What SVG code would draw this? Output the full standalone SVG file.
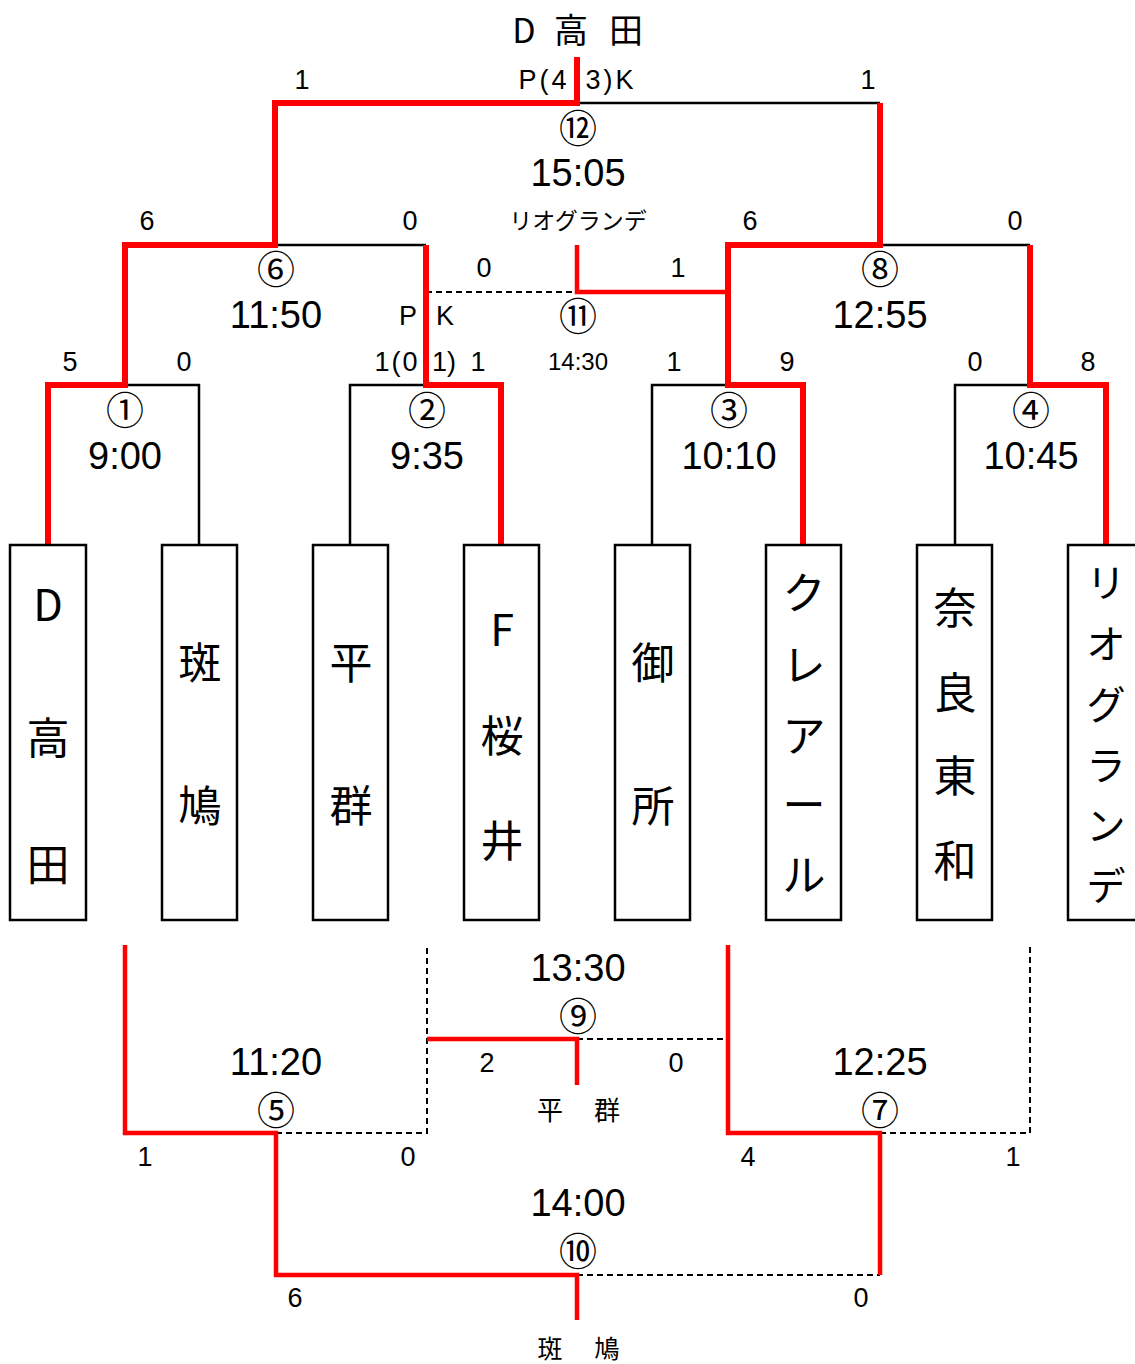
<svg xmlns="http://www.w3.org/2000/svg" width="1135" height="1364" viewBox="0 0 1135 1364">
<style>
.t{font-family:"Noto Sans CJK JP","Liberation Sans",sans-serif;fill:#000;text-anchor:middle;dominant-baseline:central}
.n{font-family:"Liberation Sans","Noto Sans CJK JP",sans-serif;fill:#000;text-anchor:middle;dominant-baseline:central}
.time{font-size:38px}
.sc{font-size:27px}
.circ{font-size:38px}
.team{font-size:43px}
.team2{font-size:39px}
.box{fill:#fff;stroke:#000;stroke-width:2.5}
.red{fill:none;stroke:#ff0000;stroke-width:6;stroke-linejoin:miter;stroke-linecap:butt}
.redb{fill:none;stroke:#ff0000;stroke-width:4.5;stroke-linejoin:miter}
.blk{fill:none;stroke:#000;stroke-width:2.5}
.dash{fill:none;stroke:#000;stroke-width:2;stroke-dasharray:6 4}
</style>
<rect width="1135" height="1364" fill="#fff"/>
<g id="connectors">
<path class="blk" d="M125,385 H199 V545 M426,385 H350 V545 M728,385 H652 V545 M1030,385 H955 V545 M275,245 H426 M880,245 H1030 M577,103 H880"/>
<path class="dash" d="M426,292 H577"/>
<path class="red" d="M48,545 V385 H125 V245 H275 V103 H577 V57"/>
<path class="red" d="M501,545 V385 H426 V245"/>
<path class="red" d="M803,545 V385 H728 V245 H880 V103"/>
<path class="red" d="M1106,545 V385 H1030 V245"/>
<path class="redb" d="M577,245 V292 H728"/>
<path class="dash" d="M276,1133 H427 V945 M880,1133 H1030 V945 M577,1039 H728 M577,1275 H880"/>
<path class="redb" d="M125,945 V1133 H276 V1275 H577 V1320"/>
<path class="redb" d="M728,945 V1133 H880 V1275"/>
<path class="redb" d="M427,1039 H577 V1085"/>
</g>
<g id="team1"><rect class="box" x="10" y="545" width="76" height="375"/><text class="t team" x="48" y="602">D</text><text class="t team" x="48" y="735">高</text><text class="t team" x="48" y="862">田</text></g>
<g id="team2"><rect class="box" x="162" y="545" width="75" height="375"/><text class="t team" x="200" y="660">斑</text><text class="t team" x="200" y="803">鳩</text></g>
<g id="team3"><rect class="box" x="313" y="545" width="75" height="375"/><text class="t team" x="351" y="660">平</text><text class="t team" x="351" y="803">群</text></g>
<g id="team4"><rect class="box" x="464" y="545" width="75" height="375"/><text class="t team" x="502" y="627">F</text><text class="t team" x="502" y="733">桜</text><text class="t team" x="502" y="838">井</text></g>
<g id="team5"><rect class="box" x="615" y="545" width="75" height="375"/><text class="t team" x="653" y="660">御</text><text class="t team" x="653" y="803">所</text></g>
<g id="team6"><rect class="box" x="766" y="545" width="75" height="375"/><text class="t team" x="804" y="590">ク</text><text class="t team" x="804" y="662">レ</text><text class="t team" x="804" y="733">ア</text><text class="t team" x="804" y="802">ー</text><text class="t team" x="804" y="872">ル</text></g>
<g id="team7"><rect class="box" x="917" y="545" width="75" height="375"/><text class="t team" x="955" y="605">奈</text><text class="t team" x="955" y="690">良</text><text class="t team" x="955" y="773">東</text><text class="t team" x="955" y="858">和</text></g>
<g id="team8"><rect class="box" x="1068" y="545" width="76" height="375"/><text class="t team2" x="1106" y="580">リ</text><text class="t team2" x="1106" y="641">オ</text><text class="t team2" x="1106" y="702">グ</text><text class="t team2" x="1106" y="763">ラ</text><text class="t team2" x="1106" y="823">ン</text><text class="t team2" x="1106" y="883">デ</text></g>
<g id="champion"><text class="t" style="font-size:34px" x="524" y="28">D</text><text class="t" style="font-size:34px" x="571" y="28">高</text><text class="t" style="font-size:34px" x="626" y="28">田</text></g>
<g id="match12"><text class="n sc" x="302" y="80">1</text><text class="n sc" x="868" y="80">1</text><text class="n sc" x="544" y="80" style="letter-spacing:3px">P(4</text><text class="n sc" x="611" y="80" style="letter-spacing:3px">3)K</text><text class="t circ" x="578" y="125">⑫</text><text class="n time" x="578" y="173">15:05</text><text class="t" style="font-size:23px" x="578" y="219">リオグランデ</text></g>
<g id="match6"><text class="n sc" x="147" y="221">6</text><text class="n sc" x="410" y="221">0</text><text class="t circ" x="276" y="266">⑥</text><text class="n time" x="276" y="315">11:50</text></g>
<g id="match8"><text class="n sc" x="750" y="221">6</text><text class="n sc" x="1015" y="221">0</text><text class="t circ" x="880" y="266">⑧</text><text class="n time" x="880" y="315">12:55</text></g>
<g id="match11"><text class="n sc" x="484" y="268">0</text><text class="n sc" x="678" y="268">1</text><text class="t circ" x="578" y="313">⑪</text><text class="n" style="font-size:24px" x="578" y="361">14:30</text><text class="n sc" x="408" y="316">P</text><text class="n sc" x="445" y="316">K</text></g>
<g id="match1"><text class="n sc" x="70" y="362">5</text><text class="n sc" x="184" y="362">0</text><text class="t circ" x="125" y="407">①</text><text class="n time" x="125" y="456">9:00</text></g>
<g id="match2"><text class="n sc" x="397" y="362" style="letter-spacing:2px">1(0</text><text class="n sc" x="444" y="362">1)</text><text class="n sc" x="478" y="362">1</text><text class="t circ" x="427" y="407">②</text><text class="n time" x="427" y="456">9:35</text></g>
<g id="match3"><text class="n sc" x="674" y="362">1</text><text class="n sc" x="787" y="362">9</text><text class="t circ" x="729" y="407">③</text><text class="n time" x="729" y="456">10:10</text></g>
<g id="match4"><text class="n sc" x="975" y="362">0</text><text class="n sc" x="1088" y="362">8</text><text class="t circ" x="1031" y="407">④</text><text class="n time" x="1031" y="456">10:45</text></g>
<g id="match9"><text class="n time" x="578" y="968">13:30</text><text class="t circ" x="578" y="1013">⑨</text><text class="n sc" x="487" y="1063">2</text><text class="n sc" x="676" y="1063">0</text><text class="t" style="font-size:26px" x="550" y="1108">平</text><text class="t" style="font-size:26px" x="607" y="1108">群</text></g>
<g id="match5"><text class="n time" x="276" y="1062">11:20</text><text class="t circ" x="276" y="1107">⑤</text><text class="n sc" x="145" y="1157">1</text><text class="n sc" x="408" y="1157">0</text></g>
<g id="match7"><text class="n time" x="880" y="1062">12:25</text><text class="t circ" x="880" y="1107">⑦</text><text class="n sc" x="748" y="1157">4</text><text class="n sc" x="1013" y="1157">1</text></g>
<g id="match10"><text class="n time" x="578" y="1203">14:00</text><text class="t circ" x="578" y="1248">⑩</text><text class="n sc" x="295" y="1298">6</text><text class="n sc" x="861" y="1298">0</text><text class="t" style="font-size:25px" x="550" y="1347">斑</text><text class="t" style="font-size:25px" x="607" y="1347">鳩</text></g>
</svg>
